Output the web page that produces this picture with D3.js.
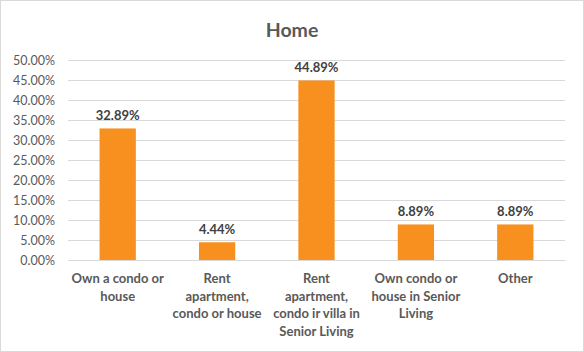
<!DOCTYPE html>
<html>
<head>
<meta charset="utf-8">
<script src="https://cdn.jsdelivr.net/npm/d3@7"></script>
<style>
  body { margin: 0; background: #fff; }
  svg { display: block; font-family: Lato, "Liberation Sans", sans-serif; }
</style>
</head>
<body>
<svg id="drawing_region"></svg>
<script>
// chart values
const categories = [
    ["Own a condo or", "house"],
    ["Rent", "apartment,", "condo or house"],
    ["Rent", "apartment,", "condo ir villa in", "Senior Living"],
    ["Own condo or", "house in Senior", "Living"],
    ["Other"]
];
const values = [32.89, 4.44, 44.89, 8.89, 8.89];
const yTicks = [0, 5, 10, 15, 20, 25, 30, 35, 40, 45, 50];
const title = "Home";

const config = {
    width: 584,
    height: 352,
    margin: {top: 60, right: 19, bottom: 92, left: 68}
};

const svg = d3.select('#drawing_region')
    .attr('width', config.width)
    .attr('height', config.height);

// outer border
svg.append('rect')
    .attr('x', 0.5).attr('y', 0.5)
    .attr('width', config.width - 1).attr('height', config.height - 1)
    .attr('fill', '#fff')
    .attr('stroke', '#d9d9d9');

const inner_width = config.width - config.margin.left - config.margin.right;
const inner_height = config.height - config.margin.top - config.margin.bottom;

const chart = svg.append('g')
    .attr('transform', `translate(${config.margin.left}, ${config.margin.top})`);

const xscale = d3.scaleBand()
    .domain(d3.range(values.length))
    .range([0, inner_width])
    .paddingInner(0.635)
    .paddingOuter(0.3175);

const yscale = d3.scaleLinear()
    .domain([0, 50])
    .range([inner_height, 0]);

// gridlines
chart.append('g')
    .selectAll('line')
    .data(yTicks)
    .join('line')
    .attr('x1', 0)
    .attr('x2', inner_width)
    .attr('y1', d => Math.round(yscale(d)) + 0.5)
    .attr('y2', d => Math.round(yscale(d)) + 0.5)
    .attr('stroke', '#d9d9d9')
    .attr('stroke-width', 1);

// y axis
const yaxis = d3.axisLeft(yscale)
    .tickValues(yTicks)
    .tickFormat(d => d.toFixed(2) + '%')
    .tickSize(0)
    .tickPadding(13);

const yaxis_group = chart.append('g').call(yaxis);
yaxis_group.select('.domain').remove();
yaxis_group.selectAll('text')
    .attr('fill', '#595959')
    .style('font-size', '12.5px')
    .style('font-family', 'Lato, "Liberation Sans", sans-serif');

// bars
chart.append('g')
    .selectAll('rect')
    .data(values)
    .join('rect')
    .attr('x', (d, i) => xscale(i))
    .attr('y', d => yscale(d))
    .attr('width', xscale.bandwidth())
    .attr('height', d => inner_height - yscale(d))
    .attr('fill', '#f7901e');

// value labels
chart.append('g')
    .selectAll('text')
    .data(values)
    .join('text')
    .attr('x', (d, i) => xscale(i) + xscale.bandwidth() / 2)
    .attr('y', d => yscale(d) - 8)
    .attr('text-anchor', 'middle')
    .attr('fill', '#404040')
    .style('font-size', '13px')
    .style('font-weight', 'bold')
    .text(d => d.toFixed(2) + '%');

// x axis
const xaxis = d3.axisBottom(xscale)
    .tickSize(0)
    .tickFormat('');
const xaxis_group = chart.append('g')
    .attr('transform', `translate(0, ${inner_height})`)
    .call(xaxis);
xaxis_group.select('.domain')
    .attr('stroke', '#d9d9d9');

// category labels
const catLabels = chart.append('g')
    .selectAll('text')
    .data(categories)
    .join('text')
    .attr('x', (d, i) => xscale(i) + xscale.bandwidth() / 2)
    .attr('y', inner_height + 23)
    .attr('text-anchor', 'middle')
    .attr('fill', '#595959')
    .style('font-size', '13px')
    .style('font-weight', 'bold');

catLabels.selectAll('tspan')
    .data(d => d)
    .join('tspan')
    .attr('x', function() { return d3.select(this.parentNode).attr('x'); })
    .attr('dy', (d, i) => i === 0 ? 0 : 17.5)
    .text(d => d);

// title
svg.append('text')
    .attr('x', config.width / 2)
    .attr('y', 37)
    .attr('text-anchor', 'middle')
    .attr('fill', '#595959')
    .style('font-size', '19.5px')
    .style('font-weight', 'bold')
    .text(title);
</script>
</body>
</html>
